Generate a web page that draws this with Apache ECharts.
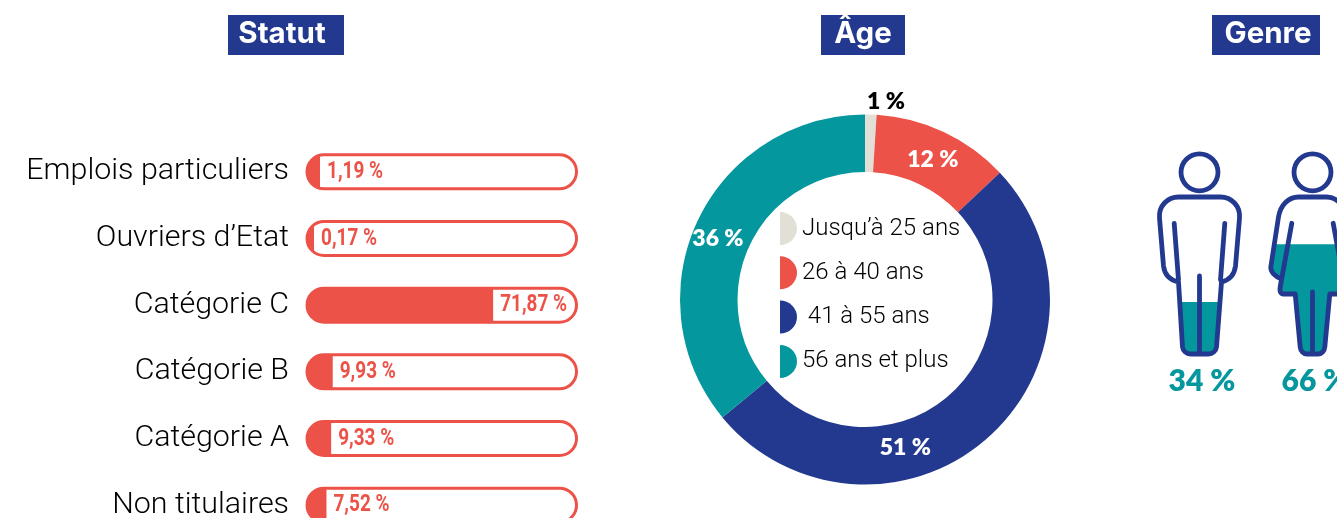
<!DOCTYPE html>
<html>
<head>
<meta charset="utf-8">
<title>Statut, Âge, Genre</title>
<script src="https://cdn.jsdelivr.net/npm/echarts@6/dist/echarts.min.js"></script>
<style>
html,body{margin:0;padding:0;background:#fff;overflow:hidden}
#chart{width:1337px;height:518px}
</style>
</head>
<body>
<div id="chart"></div>
<script>
// statut
const statutNames = ['Emplois particuliers', "Ouvriers d’Etat", 'Catégorie C', 'Catégorie B', 'Catégorie A', 'Non titulaires']
const statutValues = [1.19, 0.17, 71.87, 9.93, 9.33, 7.52]
// age
const ageNames = ['Jusqu’à 25 ans', '26 à 40 ans', ' 41 à 55 ans', '56 ans et plus']
const ageValues = [1, 12, 51, 36]
// genre
const genreNames = ['Hommes', 'Femmes']
const genreValues = [34, 66]

const RED = '#EC5248'
const NAVY = '#22398F'
const TEAL = '#05979E'
const BEIGE = '#E1DFD6'
const ageColors = [BEIGE, RED, NAVY, TEAL]
const AXIS_MAX = 104.05

const chart = echarts.init(document.getElementById('chart'))

// head + body outlines, origin at the feet
const head = 'M-18.5 -181.7a18.5 18.5 0 1 0 37 0a18.5 18.5 0 1 0 -37 0'
const manFill = 'M-21 -72C-30 -74 -35 -80 -36 -88L-40 -136C-41 -148 -32 -157 -21 -157L21 -157C32 -157 41 -148 40 -136L36 -88C35 -80 30 -74 22 -72L17 -7C16.5 -3 13 0 9 0L-9 0C-13 0 -16.5 -3 -17 -7Z'
const manLine = manFill + 'M-25.3 -130.7L-21 -74M25.3 -130.7L21 -74M0 -78L0 0' + head
const womanFill = 'M-14 -157L14 -157C24 -157 32 -149 34 -137L41.7 -87C42 -82 37 -77 31 -75L32.3 -67C33 -63 32 -60 29 -60L17.3 -60L12.3 -7C12 -3 9 0 5.7 0L-5.7 0C-9 0 -12 -3 -12.3 -7L-17.3 -60L-29 -60C-32 -60 -33 -63 -32.3 -67L-31 -75C-37 -77 -42 -82 -41.7 -87L-34 -137C-32 -149 -24 -157 -14 -157Z'
const womanLine = womanFill + 'M-20.7 -130.7L-32.3 -67M20.7 -130.7L32.3 -67M0 -62L0 0' + head
const halfDisc = 'path://M0 0A17 16.5 0 0 1 0 33Z'

function frLabel(v){
    return v.toFixed(2).replace('.', ',') + ' %'
}

function titleBox(text, x, w, textX){
    return {
        type:'group',
        children:[
            {type:'rect', shape:{x:x, y:15, width:w, height:40}, style:{fill:NAVY}},
            {type:'text', x:textX, y:34.5, style:{text:text, fill:'#fff', font:'700 29.5px Inter', textAlign:'center', textVerticalAlign:'middle'}}
        ]
    }
}

function renderStatut(params, api){
    const v = api.value(0)
    const pt = api.coord([v, api.value(1)])
    const x0 = api.coord([0, 0])[0]
    const trackW = api.size([AXIS_MAX, 0])[0]
    // very small shares keep a visible stub
    const w = Math.max(pt[0] - x0, Math.min(6 + 6 * v, 13))
    const y = pt[1] - 17
    return {
        type:'group',
        children:[
            {type:'rect', shape:{x:x0, y:y, width:trackW, height:34, r:17}, style:{fill:'#fff', stroke:RED, lineWidth:3}},
            {
                type:'rect',
                shape:{x:x0, y:y, width:w, height:34},
                style:{fill:RED},
                clipPath:{type:'rect', shape:{x:x0, y:y, width:trackW, height:34, r:17}}
            },
            {
                type:'text', x:x0 + w + 7, y:pt[1], scaleX:0.79,
                style:{text:frLabel(v), fill:RED, font:'700 24px Roboto', textVerticalAlign:'middle'}
            }
        ]
    }
}

function renderGenre(params, api){
    const v = api.value(1)
    const i = api.value(0)
    const pt = api.coord([i, v])
    const base = api.coord([i, 0])
    const feet = base[1] - 9.6
    return {
        type:'group',
        children:[
            {
                type:'path', x:pt[0], y:feet,
                shape:{pathData:i === 0 ? manFill : womanFill},
                style:{fill:TEAL},
                clipPath:{type:'rect', shape:{x:-60, y:pt[1] - feet, width:120, height:feet - pt[1]}}
            },
            {
                type:'path', x:pt[0], y:feet,
                shape:{pathData:i === 0 ? manLine : womanLine},
                style:{fill:'none', stroke:NAVY, lineWidth:4.8, lineCap:'round', lineJoin:'round'}
            },
            {
                type:'text', x:pt[0] + 2.5, y:base[1] + 18,
                style:{text:v + ' %', fill:TEAL, font:'800 30px Lato', textAlign:'center', textVerticalAlign:'middle'}
            }
        ]
    }
}

const option = {
    animation:false,
    backgroundColor:'#fff',
    graphic:[
        titleBox('Statut', 228, 116, 282),
        titleBox('Âge', 821, 84, 863),
        titleBox('Genre', 1212, 108, 1268)
    ],
    grid:[
        {left:307, top:138.5, width:269.5, height:400, outerBoundsMode:'none'},
        {left:1143, top:182.6, width:226, height:181, outerBoundsMode:'none'}
    ],
    xAxis:[
        {type:'value', gridIndex:0, min:0, max:AXIS_MAX, show:false},
        {type:'category', gridIndex:1, data:genreNames, show:false}
    ],
    yAxis:[
        {
            type:'category',
            gridIndex:0,
            inverse:true,
            data:statutNames,
            axisLine:{show:false},
            axisTick:{show:false},
            axisLabel:{margin:18, color:'#000', fontFamily:'Roboto', fontWeight:300, fontSize:30.4, padding:[2, 0, 0, 0]}
        },
        {type:'value', gridIndex:1, min:0, max:100, show:false}
    ],
    legend:{
        orient:'vertical',
        left:780,
        top:212,
        padding:0,
        itemWidth:17,
        itemHeight:33,
        itemGap:11.3,
        icon:halfDisc,
        selectedMode:false,
        data:ageNames,
        formatter:'{name}',
        textStyle:{color:'#000', fontFamily:'Roboto', fontWeight:300, fontSize:24}
    },
    series:[
        {
            type:'custom',
            xAxisIndex:0,
            yAxisIndex:0,
            data:statutValues.map((v, i) => [v, i]),
            encode:{x:0, y:1},
            renderItem:renderStatut,
            clip:false
        },
        {
            type:'pie',
            center:[865, 299.5],
            radius:[127.5, 185],
            startAngle:90,
            clockwise:true,
            silent:true,
            data:ageNames.map((n, i) => ({name:n, value:ageValues[i], itemStyle:{color:ageColors[i]}})),
            label:{
                position:'inside',
                formatter:'{c} %',
                color:'#fff',
                fontFamily:'Lato',
                fontWeight:800,
                fontSize:23
            },
            labelLine:{show:false},
            labelLayout:function(p){
                if(p.dataIndex === 0) return {dx:16, dy:-39}
                if(p.dataIndex === 1) return {dy:4}
                if(p.dataIndex === 2) return {dx:-65, dy:29}
                return {dx:-3, dy:7}
            }
        },
        {
            type:'custom',
            xAxisIndex:1,
            yAxisIndex:1,
            data:genreValues.map((v, i) => [i, v]),
            encode:{x:0, y:1},
            renderItem:renderGenre,
            clip:false
        }
    ]
}
// 1 % sits outside the ring, in black
option.series[1].data[0].label = {color:'#000'}

chart.setOption(option)
</script>
</body>
</html>
